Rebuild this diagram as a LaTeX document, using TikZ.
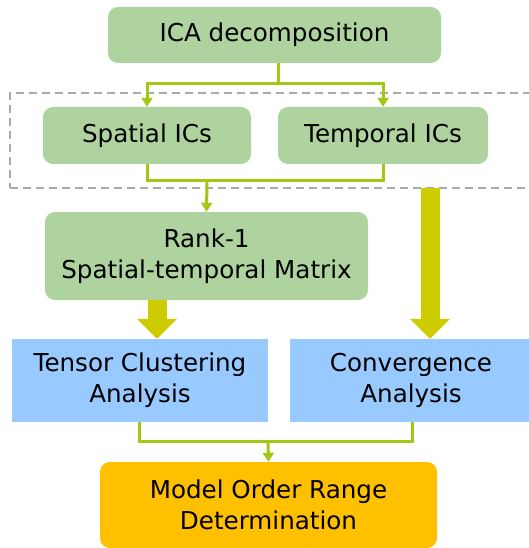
\documentclass[tikz,border=0pt]{standalone}
\usepackage{fontspec}
\setmainfont{DejaVu Sans}
\usetikzlibrary{arrows.meta}
\definecolor{gbox}{RGB}{174, 211, 158}
\definecolor{bbox}{RGB}{153, 202, 255}
\definecolor{obox}{RGB}{255, 192, 0}
\definecolor{ln}{RGB}{160, 200, 20}
\definecolor{fat}{RGB}{204, 204, 0}
\definecolor{dash}{RGB}{170, 170, 170}

\begin{document}
\begin{tikzpicture}[
  every node/.style={inner sep=0pt, font=\fontsize{24.6pt}{31pt}\selectfont, align=center},
  gnode/.style={rectangle, rounded corners=10pt, fill=gbox},
  bnode/.style={rectangle, fill=bbox},
  onode/.style={rectangle, rounded corners=10pt, fill=obox},
  thin/.style={line width=3pt, color=ln, -{Triangle[width=11pt,length=9pt]}},
  joint/.style={line width=3pt, color=ln},
  fatarrow/.style={line width=19pt, color=fat, -{Triangle[width=39pt,length=20pt]}}]
\useasboundingbox (0pt, 0pt) rectangle (529pt, -548pt);
\node (0) [rectangle, draw=dash, line width=1.5pt, dash pattern=on 8pt off 5pt, minimum width=525pt, minimum height=95pt] at (272.5pt, -140.5pt) {};
\node (1) [gnode, minimum width=333pt, minimum height=56pt] at (274.5pt, -35.0pt) {ICA decomposition};
\node (2) [gnode, minimum width=208pt, minimum height=57pt] at (147.0pt, -135.5pt) {Spatial ICs};
\node (3) [gnode, minimum width=210pt, minimum height=57pt] at (383.0pt, -135.5pt) {Temporal ICs};
\node (4) [gnode, minimum width=323pt, minimum height=88pt] at (206.5pt, -256.0pt) {Rank-1\\Spatial-temporal Matrix};
\node (5) [bnode, minimum width=256pt, minimum height=83pt] at (140.0pt, -380.5pt) {Tensor Clustering\\Analysis};
\node (6) [bnode, minimum width=242pt, minimum height=83pt] at (411.0pt, -380.5pt) {Convergence\\Analysis};
\node (7) [onode, minimum width=337pt, minimum height=86pt] at (268.5pt, -505.0pt) {Model Order Range\\Determination};
\coordinate (s1) at (278.0pt, -84.0pt);
\coordinate (s2) at (207.0pt, -180.0pt);
\coordinate (s3) at (268.0pt, -441.0pt);
\coordinate (b1) at (157.0pt, -300.0pt);
\coordinate (b2) at (430.0pt, -188.0pt);
\draw [joint] (s1 |- 1.south) to (s1);
\draw [thin] (s1) -| (2.north);
\draw [thin] (s1) -| (3.north);
\draw [joint] (2.south) |- (s2);
\draw [joint] (3.south) |- (s2);
\draw [thin] (s2) to (4.north);
\draw [fatarrow] (b1) to (b1 |- 5.north);
\draw [fatarrow] (b2) to (b2 |- 6.north);
\draw [joint] (139.0pt, -422.0pt) |- (s3);
\draw [joint] (412.0pt, -422.0pt) |- (s3);
\draw [thin] (s3) to (7.north);
\end{tikzpicture}
\end{document}
